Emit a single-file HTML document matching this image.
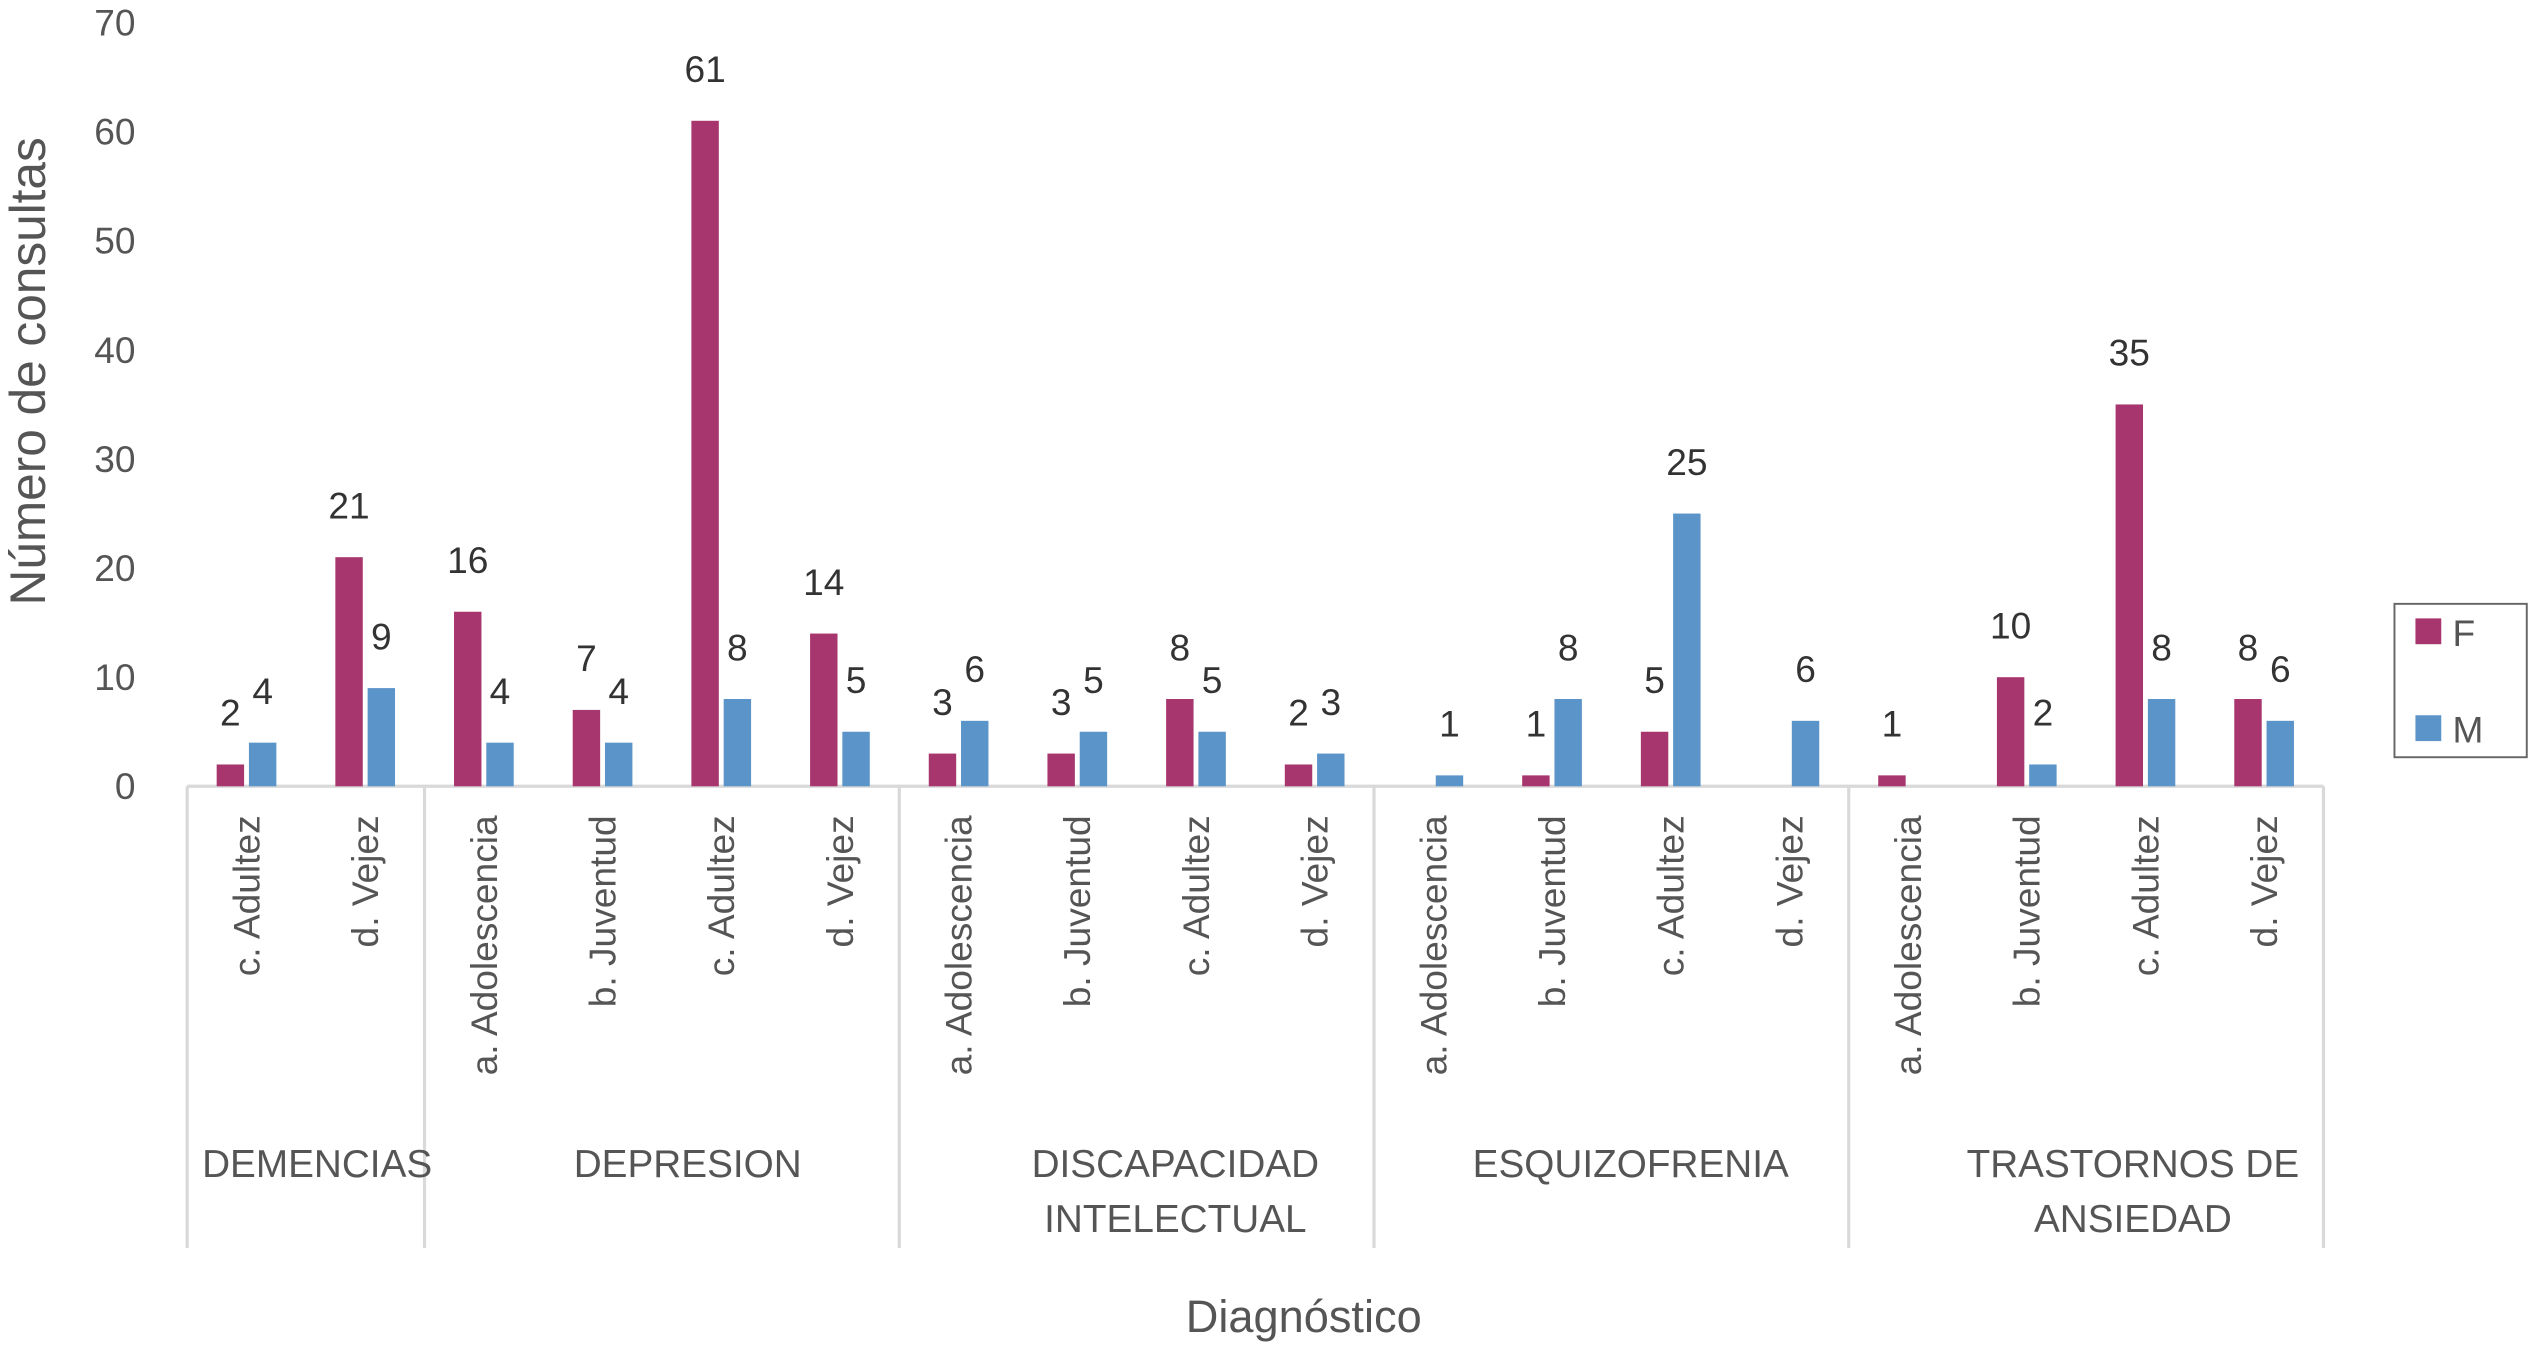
<!DOCTYPE html>
<html><head><meta charset="utf-8"><style>
html,body{margin:0;padding:0;background:#fff;}
svg{display:block;font-family:"Liberation Sans",sans-serif;}
</style></head><body>
<svg id="chart" width="2530" height="1353" viewBox="0 0 1568 838" preserveAspectRatio="none" xmlns="http://www.w3.org/2000/svg">
<text transform="translate(28,230) rotate(-90)" text-anchor="middle" font-size="31" fill="#555" textLength="290" lengthAdjust="spacingAndGlyphs">Número de consultas</text>
<text x="808" y="825" text-anchor="middle" font-size="28" fill="#555">Diagnóstico</text>
<g id="plot"></g>
<g>
<rect x="1484" y="374" width="82" height="95" fill="#fff" stroke="#666" stroke-width="1.2"/>
<rect x="1497" y="383" width="16" height="16" fill="#A8366E"/>
<text x="1520" y="400" font-size="23" fill="#555">F</text>
<rect x="1497" y="443" width="16" height="16" fill="#5B94C9"/>
<text x="1520" y="460" font-size="23" fill="#555">M</text>
</g>
</svg>
<script>
const groups = ["DEMENCIAS","DEPRESION","DISCAPACIDAD|INTELECTUAL","ESQUIZOFRENIA","TRASTORNOS DE|ANSIEDAD"];
const groupSizes = [2,4,4,4,4];
const categories = ["c. Adultez","d. Vejez","a. Adolescencia","b. Juventud","c. Adultez","d. Vejez","a. Adolescencia","b. Juventud","c. Adultez","d. Vejez","a. Adolescencia","b. Juventud","c. Adultez","d. Vejez","a. Adolescencia","b. Juventud","c. Adultez","d. Vejez"];
const seriesF = [2,21,16,7,61,14,3,3,8,2,0,1,5,0,1,10,35,8];
const seriesM = [4,9,4,4,8,5,6,5,5,3,1,8,25,6,0,2,8,6];
const yTicks = [0,10,20,30,40,50,60,70];

const NS="http://www.w3.org/2000/svg";
const g=document.getElementById('plot');
const x0=116,x1=1440,yBase=487,yTop=14,yMax=70;
const cw=(x1-x0)/categories.length;
const groupLabelShift=[7,16,24,12,29];
const y=v=>yBase-(v/yMax)*(yBase-yTop);
const xc=i=>x0+cw*(i+0.5);
function el(t,a,txt){const e=document.createElementNS(NS,t);for(const k in a)e.setAttribute(k,a[k]);if(txt!==undefined)e.textContent=txt;g.appendChild(e);return e;}

yTicks.forEach(v=>{
  const t=el('text',{x:84,y:y(v)+8,'text-anchor':'end','font-size':23,fill:'#555'},String(v));
  
  
});
const ax=el('line',{x1:x0,y1:yBase,x2:x1,y2:yBase,stroke:'#d9d9d9','stroke-width':2});



let idx=0;
const bounds=[0];
groupSizes.forEach(s=>{idx+=s;bounds.push(idx);});
bounds.forEach(b=>{
  const l=el('line',{x1:x0+b*cw,y1:yBase,x2:x0+b*cw,y2:773,stroke:'#d9d9d9','stroke-width':2});
  
  
});
groups.forEach((name,gi)=>{
  const cx=x0+cw*(bounds[gi]+bounds[gi+1])/2+groupLabelShift[gi];
  name.split('|').forEach((line,li)=>{
    const t=el('text',{x:cx,y:729+li*34,'text-anchor':'middle','font-size':24,fill:'#555'},line);
    
    
  });
});

const bw=17;
categories.forEach((c,i)=>{
  const cx=xc(i);
  const t=el('text',{transform:`translate(${cx+8},505) rotate(-90)`,'text-anchor':'end','font-size':23,fill:'#555'},c);
  
  
  [[seriesF[i],cx-bw-1.5,'#A8366E','f'],[seriesM[i],cx+1.5,'#5B94C9','m']].forEach(([v,bx,col,s])=>{
    if(v>0){
      const r=el('rect',{x:bx,y:y(v),width:bw,height:yBase-y(v),fill:col});
      
      
      const lb=el('text',{x:bx+bw/2,y:y(v)-24,'text-anchor':'middle','font-size':23,fill:'#333'},String(v));
      
      
    }
  });
});
</script>
</body></html>
